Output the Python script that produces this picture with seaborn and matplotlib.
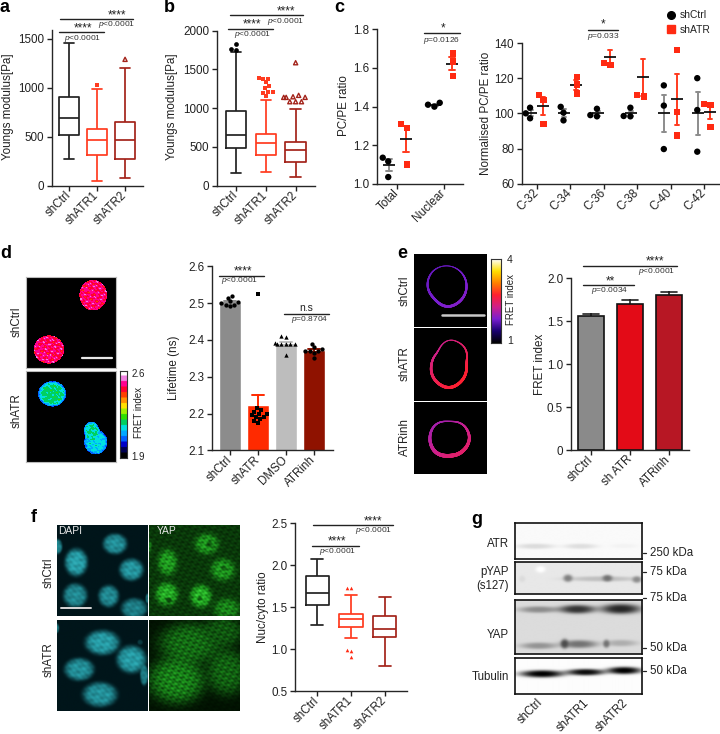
import numpy as np
import pandas as pd
import matplotlib
matplotlib.use('Agg')
import matplotlib.pyplot as plt
import seaborn as sns
from matplotlib.colors import LinearSegmentedColormap, ListedColormap
from matplotlib.lines import Line2D
from matplotlib.transforms import Affine2D

# ---- values ----
box_groups = ['shCtrl', 'shATR1', 'shATR2']
# whisker low, q1, median, q3, whisker high
a_shctrl = [276, 518, 689, 903, 1463]
a_shatr1 = [44, 317, 464, 583, 985]
a_shatr2 = [78, 273, 464, 651, 1203]
a_fliers1 = [1033]
a_fliers2 = [1292]

b_shctrl = [168, 482, 654, 963, 1729]
b_shatr1 = [176, 396, 555, 671, 1105]
b_shatr2 = [112, 305, 456, 563, 994]
b_fliers0 = [1824, 1759, 1755]
b_fliers1 = [1381, 1385, 1381, 1333, 1290, 1256, 1200, 1208, 1208, 1157]
b_fliers2 = [1587, 1166, 1140, 1140, 1140, 1148, 1084, 1084, 1084]

f_shctrl = [1.292, 1.53, 1.664, 1.874, 2.076]
f_shatr1 = [1.134, 1.26, 1.36, 1.423, 1.648]
f_shatr2 = [0.80, 1.146, 1.245, 1.395, 1.62]
f_fliers1 = [1.73, 1.73, 0.995, 0.98, 0.904]

conds = ['shCtrl', 'shATR']
c1_groups = ['Total', 'Nuclear']
c1_ctrl = [[1.136, 1.117, 1.036], [1.42, 1.40, 1.41]]
c1_atr = [[1.309, 1.29, 1.10], [1.674, 1.634, 1.557]]

c2_groups = ['C-32', 'C-34', 'C-36', 'C-38', 'C-40', 'C-42']
c2_ctrl = [[97.2, 103.2, 100], [96, 103.7, 100.4], [102.6, 98.3, 99],
           [103.2, 98.3, 98.5], [115.9, 104.4, 79.7], [120, 101.9, 78.2]]
c2_atr = [[110.3, 107.7, 93.8], [120.8, 116.3, 111.2], [127.5, 128.8],
          [109.5, 110.3], [136, 100.6, 87.5], [105.3, 104.9, 92.4]]
# third replicates that count in the mean but have no marker in the figure
c2_atr_hidden = {'C-36': 140, 'C-38': 141.4}

d_groups = ['shCtrl', 'shATR', 'DMSO', 'ATRinh']
d_shctrl = [2.52, 2.515, 2.505, 2.50, 2.495, 2.492, 2.495, 2.503]
d_shatr = [2.21, 2.205, 2.20, 2.195, 2.19, 2.185, 2.18, 2.215, 2.20, 2.19, 2.175, 2.525]
d_dmso = [2.41, 2.408, 2.392, 2.39, 2.39, 2.39, 2.388, 2.388, 2.36]
d_atrinh = [2.39, 2.38, 2.375, 2.37, 2.37, 2.37, 2.365, 2.35]

e_groups = ['shCtrl', 'sh ATR', 'ATRinh']
e_shctrl = [1.533, 1.563, 1.593]
e_shatr = [1.619, 1.702, 1.785]
e_atrinh = [1.76, 1.807, 1.854]

# ---- style ----
sns.set_theme(style='ticks')
plt.rcParams['font.family'] = ['Liberation Sans', 'DejaVu Sans']
plt.rcParams['mathtext.fontset'] = 'custom'
plt.rcParams['mathtext.it'] = 'Liberation Sans:italic'
plt.rcParams['mathtext.rm'] = 'Liberation Sans'
plt.rcParams['axes.linewidth'] = 1.0
plt.rcParams['text.color'] = '#222222'
plt.rcParams['axes.labelcolor'] = '#222222'
plt.rcParams['xtick.color'] = '#222222'
plt.rcParams['ytick.color'] = '#222222'

W, H = 720, 734
fig = plt.figure(figsize=(W / 100, H / 100), dpi=100)
px = Affine2D().scale(1 / W, -1 / H).translate(0, 1) + fig.transFigure

BLACK = '#222222'
RED1 = '#ff3b1f'
RED2 = '#a3231a'
FS = 8.4


def chart_ax(x0, x1, ytop, ybot):
    return fig.add_axes([x0 / W, 1 - ybot / H, (x1 - x0) / W, (ybot - ytop) / H])


def finish(ax, xlim, ylim, yticks, yticklabels, ylabel, label_x, label_y):
    ax.set_xlim(*xlim)
    ax.set_ylim(*ylim)
    ax.set_yticks(yticks)
    ax.set_yticklabels(yticklabels)
    ax.set_xlabel('')
    ax.set_ylabel(ylabel, fontsize=FS)
    # ylabel sits left of its anchor, so the anchor is the right edge of the text
    ax.yaxis.set_label_coords(label_x + 8, label_y, transform=px)
    ax.tick_params(axis='both', labelsize=FS, length=3.5, width=1.0, pad=2)
    plt.setp(ax.get_xticklabels(), rotation=45, ha='right', va='center', rotation_mode='anchor')
    sns.despine(ax=ax)


def box_panel(ax, groups, stats, colors):
    df = pd.DataFrame({'group': np.repeat(groups, 5), 'val': np.concatenate(stats)})
    sns.boxplot(data=df, x='group', y='val', hue='group', order=groups, palette=colors,
                fill=False, width=0.69, whis=(0, 100), linewidth=1.25, saturation=1,
                legend=False, ax=ax)


def flier_swarm(ax, groups, group, vals, marker, color, size, hollow=True):
    df = pd.DataFrame({'group': [group] * len(vals), 'val': vals})
    sns.swarmplot(data=df, x='group', y='val', order=groups, color=color, marker=marker,
                  size=size, ax=ax, warn_thresh=1)
    coll = ax.collections[-1]
    if hollow:
        coll.set_facecolor('none')
        coll.set_edgecolor(color)
        coll.set_linewidth(1.0)


def sig(x0, x1, y, stars, star_x, star_y, ptxt, p_x, p_y):
    fig.add_artist(Line2D([x0, x1], [y, y], transform=px, color='#222222', lw=1.0))
    fig.text(star_x, star_y + 0.5, stars, transform=px, ha='center', va='center', fontsize=8.5)
    fig.text(p_x, p_y, ptxt, transform=px, ha='center', va='center', fontsize=6, color='#333333')


P4 = r'$\it{p}$<0.0001'


def long_pairs(groups, ctrl, atr):
    rows = []
    for g, cs, xs in zip(groups, ctrl, atr):
        rows += [(g, 'shCtrl', v) for v in cs]
        rows += [(g, 'shATR', v) for v in xs]
    return pd.DataFrame(rows, columns=['group', 'cond', 'val'])


def pair_panel(ax, df_points, df_stats, groups):
    # mean +- sem: coloured error bars, black mean bar on top
    err_pal = {'shCtrl': '#8c8c8c', 'shATR': RED1}
    dot_pal = {'shCtrl': 'black', 'shATR': '#ff2a12'}
    sns.pointplot(data=df_stats, x='group', y='val', hue='cond', order=groups, hue_order=conds,
                  dodge=0.36, linestyle='none', marker='_', markersize=0, errorbar='se',
                  capsize=0.12, palette=err_pal, err_kws={'linewidth': 1.4}, legend=False, ax=ax)
    for cond, marker in [('shCtrl', 'o'), ('shATR', 's')]:
        sub = df_points[df_points['cond'] == cond]
        sns.swarmplot(data=sub, x='group', y='val', hue='cond', order=groups, hue_order=conds,
                      dodge=True, marker=marker, size=4.6, palette=dot_pal,
                      legend=False, ax=ax, warn_thresh=1)
    sns.pointplot(data=df_stats, x='group', y='val', hue='cond', order=groups, hue_order=conds,
                  dodge=0.36, linestyle='none', marker='_', markersize=9, markeredgewidth=1.3,
                  errorbar=None, palette={'shCtrl': '#111111', 'shATR': '#111111'},
                  legend=False, ax=ax)


# ---- a ----
ax = chart_ax(52, 143, 29.5, 185.7)
box_colors = dict(zip(box_groups, [BLACK, RED1, RED2]))
box_panel(ax, box_groups, [a_shctrl, a_shatr1, a_shatr2], box_colors)
flier_swarm(ax, box_groups, 'shATR1', a_fliers1, 's', RED1, 3.2)
flier_swarm(ax, box_groups, 'shATR2', a_fliers2, '^', RED2, 3.0)
finish(ax, (-0.607, 2.64), (0, 1597), [0, 500, 1000, 1500], ['0', '500', '1000', '1500'],
       'Youngs modulus[Pa]', 6, 107)
sig(60.3, 133.3, 19.3, '****', 116.7, 15, P4, 116.7, 25)
sig(59.3, 104.3, 32.3, '****', 83, 28, P4, 83, 38)

# ---- b ----
ax = chart_ax(216.7, 315, 30.7, 185.7)
box_panel(ax, box_groups, [b_shctrl, b_shatr1, b_shatr2], box_colors)
flier_swarm(ax, box_groups, 'shCtrl', b_fliers0, 'o', 'black', 3.4, hollow=False)
flier_swarm(ax, box_groups, 'shATR1', b_fliers1, 's', RED1, 3.2)
flier_swarm(ax, box_groups, 'shATR2', b_fliers2, '^', RED2, 3.0)
finish(ax, (-0.65, 2.65), (0, 2000), [0, 500, 1000, 1500, 2000], ['0', '500', '1000', '1500', '2000'],
       'Youngs modulus[Pa]', 170, 107)
sig(230, 302.7, 15.3, '****', 286, 11, P4, 286, 21.3)
sig(228.3, 273.3, 28.7, '****', 252.3, 24, P4, 252.3, 34)

# ---- c left ----
ax = chart_ax(376.7, 463, 29.3, 184)
c1_df = long_pairs(c1_groups, c1_ctrl, c1_atr)
pair_panel(ax, c1_df, c1_df, c1_groups)
finish(ax, (-0.45, 1.42), (1.0, 1.8), [1.0, 1.2, 1.4, 1.6, 1.8], ['1.0', '1.2', '1.4', '1.6', '1.8'],
       'PC/PE ratio', 342, 106)
sig(424.3, 460, 33.3, '*', 442.7, 28, r'$\it{p}$=0.0126', 441.7, 40)

# ---- c right ----
ax = chart_ax(521.7, 720, 43, 183.7)
c2_df = long_pairs(c2_groups, c2_ctrl, c2_atr)
extra = pd.DataFrame([(g, 'shATR', v) for g, v in c2_atr_hidden.items()], columns=['group', 'cond', 'val'])
c2_all = pd.concat([c2_df, extra], ignore_index=True)
pair_panel(ax, c2_df, c2_all, c2_groups)
finish(ax, (-0.45, 5.48), (60, 140), [60, 80, 100, 120, 140], ['60', '80', '100', '120', '140'],
       'Normalised PC/PE ratio', 484, 113)
sig(588, 618, 30, '*', 602.7, 24, r'$\it{p}$=0.033', 602.7, 36.7)
handles = [Line2D([], [], marker='o', color='black', ls='none', ms=5.5),
           Line2D([], [], marker='s', color='#ff2a12', ls='none', ms=5.5)]
fig.legend(handles, conds, loc='upper left', bbox_to_anchor=(663.7 / W, 1 - 10.5 / H), frameon=False,
           fontsize=7.4, handlelength=1.4, handletextpad=0.2, labelspacing=0.42, borderpad=0,
           borderaxespad=0)

# ---- d bar ----
ax = chart_ax(211.7, 333, 266.3, 450.3)
d_colors = dict(zip(d_groups, ['#8c8c8c', '#ff2a00', '#bdbdbd', '#8f1200']))
d_df = pd.DataFrame({'group': np.repeat(d_groups, [len(d_shctrl), len(d_shatr), len(d_dmso), len(d_atrinh)]),
                     'val': d_shctrl + d_shatr + d_dmso + d_atrinh})
for g, marker in zip(d_groups, ['o', 's', '^', 'o']):
    sub = d_df[d_df['group'] == g]
    sns.barplot(data=sub, x='group', y='val', order=d_groups, color=d_colors[g], saturation=1,
                width=0.77, errorbar='se', capsize=0.4, err_kws={'linewidth': 1.4, 'color': d_colors[g]},
                ax=ax)
    sns.swarmplot(data=sub, x='group', y='val', order=d_groups, color='black',
                  marker=marker, size=3.1, ax=ax, warn_thresh=1)
finish(ax, (-0.65, 3.68), (2.1, 2.6), [2.1, 2.2, 2.3, 2.4, 2.5, 2.6],
       ['2.1', '2.2', '2.3', '2.4', '2.5', '2.6'], 'Lifetime (ns)', 172, 368)
sig(219.3, 264.3, 275.7, '****', 243.3, 271, P4, 240, 281)
fig.add_artist(Line2D([283.7, 328.7], [314, 314], transform=px, color='#222222', lw=1.0))
fig.text(306.7, 308, 'n.s', transform=px, ha='center', va='center', fontsize=7.5)
fig.text(309.3, 319.7, r'$\it{p}$=0.8704', transform=px, ha='center', va='center', fontsize=6, color='#333333')

# ---- e bar ----
ax = chart_ax(570.7, 689.3, 278, 450.3)
e_colors = dict(zip(e_groups, ['#8a8a8a', '#e30b17', '#b71724']))
e_df = pd.DataFrame({'group': np.repeat(e_groups, 3), 'val': e_shctrl + e_shatr + e_atrinh})
sns.barplot(data=e_df, x='group', y='val', hue='group', order=e_groups, palette=e_colors, saturation=1,
            width=0.66, errorbar='se', capsize=0.4, edgecolor='#111111', linewidth=1.2,
            err_kws={'linewidth': 1.2, 'color': '#222222', 'zorder': 0.5}, legend=False, ax=ax)
finish(ax, (-0.52, 2.52), (0, 2.0), [0, 0.5, 1.0, 1.5, 2.0], ['0', '0.5', '1.0', '1.5', '2.0'],
       'FRET index', 538, 364)
sig(583, 676.7, 265.7, '****', 655.3, 261, P4, 656.7, 271.7)
sig(583, 634, 285.3, '**', 610, 280.7, r'$\it{p}$=0.0034', 610, 291)

# ---- f box ----
ax = chart_ax(295, 407.3, 523, 691.3)
box_panel(ax, box_groups, [f_shctrl, f_shatr1, f_shatr2], box_colors)
flier_swarm(ax, box_groups, 'shATR1', f_fliers1, '^', '#ff2a12', 2.6, hollow=False)
finish(ax, (-0.66, 2.67), (0.5, 2.5), [0.5, 1.0, 1.5, 2.0, 2.5], ['0.5', '1.0', '1.5', '2.0', '2.5'],
       'Nuc/cyto ratio', 261, 607)
sig(312.7, 392.7, 525, '****', 372.7, 520.7, P4, 374, 531)
sig(311.7, 359.3, 545.7, '****', 336.7, 541, P4, 337.3, 551.3)


# ---- image panels, sketched from soft blobs ----
def img_ax(ox, oy, zx0, zx1, zy0, zy1, edge=None):
    """axes placed from 3x crop coordinates, with the crop coordinates as data coordinates"""
    a = chart_ax(ox + zx0 / 3, ox + zx1 / 3, oy + zy0 / 3, oy + zy1 / 3)
    a.set_xlim(zx0, zx1)
    a.set_ylim(zy1, zy0)
    a.set_xticks([])
    a.set_yticks([])
    for s in a.spines.values():
        s.set_visible(edge is not None)
        if edge is not None:
            s.set_color(edge)
            s.set_linewidth(0.8)
    return a


def blob_field(zx0, zx1, zy0, zy1, blobs, power=2, base=0.0):
    yy, xx = np.mgrid[zy0:zy1, zx0:zx1]
    out = np.full(xx.shape, float(base))
    for cx, cy, rx, ry, v in blobs:
        s = np.exp(-(((xx - cx) / rx) ** 2 + ((yy - cy) / ry) ** 2) ** power)
        out = out + (v - out) * s
    return out, xx, yy


def grain(xx, yy, scale=1.0):
    # mottled texture between about -1 and 1, from a few crossing waves
    g = (np.sin(xx * 0.31 * scale + yy * 0.17 * scale + 1.0) + np.sin(yy * 0.37 * scale - xx * 0.13 * scale)
         + np.sin(xx * 0.53 * scale - yy * 0.47 * scale + 2.0) + np.sin(xx * 0.11 * scale + yy * 0.59 * scale))
    return g / 3


def show(a, field, cmap, box, vmin=0, vmax=1, interpolation='bilinear'):
    a.imshow(field, cmap=cmap, vmin=vmin, vmax=vmax, extent=(box[0], box[1], box[3], box[2]),
             aspect='auto', interpolation=interpolation)


def colorbar(x0, x1, y0, y1, cmap):
    a = chart_ax(x0, x1, y0, y1)
    a.imshow(np.linspace(1, 0, 256)[:, None], cmap=cmap, aspect='auto')
    a.set_xticks([])
    a.set_yticks([])
    for s in a.spines.values():
        s.set_linewidth(0.8)
        s.set_color('#333333')


def side_label(x, y, txt, fs=FS):
    fig.text(x, y, txt, transform=px, rotation=90, ha='center', va='center', fontsize=fs)


# d images
spectrum = ListedColormap(['#000000', '#000050', '#0000c8', '#0060ff', '#00a8ff', '#00e0e0', '#00d060',
                           '#30e000', '#a0f000', '#ffe000', '#ff9000', '#ff4000', '#ff0030', '#ff0090',
                           '#f080e0', '#ffffff'])
box = (77, 349, 126, 398)
a = img_ax(0, 235, *box, edge='#bbbbbb')
f, xx, yy = blob_field(*box, [(277, 180, 45, 50, 0.83), (145, 342, 50, 46, 0.83)], power=4)
f = np.where(f > 0.5, 0.82 + 0.08 * grain(xx, yy, 1.0), 0)
show(a, f, spectrum, box, interpolation='nearest')
a.plot([247, 337], [368, 368], color='#e8e8e8', lw=1.6)
box = (77, 349, 407, 680)
a = img_ax(0, 235, *box, edge='#bbbbbb')
f, xx, yy = blob_field(*box, [(155, 475, 44, 40, 0.4), (285, 620, 38, 40, 0.33), (272, 585, 24, 28, 0.38)], power=4)
f = np.where(f > 0.2, f + 0.05 * grain(xx, yy, 1.0), 0)
show(a, f, spectrum, box, interpolation='nearest')
colorbar(120, 127, 370.7, 458.3, spectrum)
fig.text(131.7, 373.7, '2.6', transform=px, va='center', fontsize=7)
fig.text(131.7, 456.7, '1.9', transform=px, va='center', fontsize=7)
side_label(139.3, 412.7, 'FRET index', 7)
side_label(16.7, 322, 'shCtrl')
side_label(16.7, 411, 'shATR')

# e images
fire = LinearSegmentedColormap.from_list('fire', ['#000000', '#1a0070', '#7a1fd0', '#d0208a', '#ff2030',
                                                  '#ff8000', '#ffe000', '#ffffff'])


def ring(a, cx, cy, radii, level, spread, size):
    th = np.linspace(0, 2 * np.pi, 500)
    knots = np.linspace(0, 2 * np.pi, len(radii) + 1)
    r = np.interp(th, knots, radii + radii[:1])
    x = cx + r * np.cos(th)
    y = cy + r * np.sin(th)
    # smooth the outline a little
    kernel = np.ones(41) / 41
    x = np.convolve(np.r_[x[-20:], x, x[:20]], kernel, mode='valid')
    y = np.convolve(np.r_[y[-20:], y, y[:20]], kernel, mode='valid')
    vals = level + spread * np.sin(th + 0.6)
    a.scatter(x, y, c=vals, cmap=fire, vmin=0, vmax=1, s=size + size * 0.8 * np.sin(th), lw=0)


a = img_ax(380, 235, 103, 320, 58, 276)
a.set_facecolor('black')
ring(a, 202, 152, [58, 60, 64, 55, 60, 62, 60, 58], 0.28, 0.02, 2)
a.plot([186, 311], [239, 239], color='#c8c8c8', lw=1.8)
a = img_ax(380, 235, 103, 320, 280, 497)
a.set_facecolor('black')
ring(a, 207, 385, [51, 63, 75, 65, 52, 47, 72, 68], 0.5, 0.07, 2.6)
a = img_ax(380, 235, 103, 320, 501, 718)
a.set_facecolor('black')
ring(a, 209, 610, [60, 55, 52, 60, 60, 60, 50, 58], 0.42, 0.06, 4)
colorbar(491, 501.3, 259, 342.7, fire)
fig.text(507, 260.3, '4', transform=px, va='center', fontsize=7.5)
fig.text(507, 341, '1', transform=px, va='center', fontsize=7.5)
side_label(511, 299.3, 'FRET index', 7)
side_label(405, 291, 'shCtrl')
side_label(405, 364, 'shATR')
side_label(405, 436.7, 'ATRinh')

# f images
dapi = LinearSegmentedColormap.from_list('dapi', ['#00151a', '#2aa6b0', '#80e8f0'])
yap = LinearSegmentedColormap.from_list('yap', ['#000a00', '#1e9a1e', '#40e840'])
box = (170, 442, 121, 393)
a = img_ax(0, 485, *box)
f, xx, yy = blob_field(*box, [(343, 177, 35, 30, 0.42), (227, 232, 33, 40, 0.48), (392, 254, 35, 32, 0.44),
                              (224, 331, 35, 35, 0.4), (324, 333, 30, 32, 0.4), (400, 370, 38, 30, 0.36),
                              (170, 185, 15, 22, 0.4), (440, 340, 6, 14, 0.3)], power=3)
f = f * (1 + 0.16 * grain(xx, yy, 0.7))
show(a, f, dapi, box)
a.plot([182, 272], [370, 370], color='#d8d8d8', lw=1.4)
a.text(175, 139, 'DAPI', color='#e8e8e8', fontsize=7.4, va='center')
box = (170, 442, 406, 678)
a = img_ax(0, 485, *box)
f, xx, yy = blob_field(*box, [(305, 473, 50, 36, 0.46), (392, 523, 43, 40, 0.46), (236, 553, 43, 33, 0.42),
                              (298, 628, 50, 36, 0.42), (170, 430, 6, 14, 0.3), (430, 570, 12, 30, 0.36),
                              (418, 472, 8, 8, 0.12)], power=3)
f = f * (1 + 0.16 * grain(xx, yy, 0.7))
show(a, f, dapi, box)

box = (447, 720, 121, 393)
a = img_ax(0, 485, *box)
f, xx, yy = blob_field(*box, [(620, 177, 35, 30, 0.5), (502, 232, 28, 38, 0.52), (668, 254, 35, 32, 0.5),
                              (500, 327, 32, 33, 0.62), (602, 333, 30, 32, 0.66), (680, 370, 38, 30, 0.42),
                              (447, 185, 8, 20, 0.35),
                              (628, 178, 10, 10, 0.25), (505, 345, 9, 9, 0.2), (600, 340, 8, 8, 0.3),
                              (672, 250, 9, 9, 0.3)], power=2, base=0.16)
f = f * (1 + 0.4 * grain(xx, yy, 1.0))
show(a, f, yap, box)
a.text(472, 139, 'YAP', color='#e8e8e8', fontsize=7.4, va='center')
box = (447, 720, 406, 678)
a = img_ax(0, 485, *box)
f, xx, yy = blob_field(*box, [(570, 475, 95, 62, 0.33), (530, 585, 85, 70, 0.4), (680, 560, 60, 70, 0.3),
                              (670, 440, 60, 45, 0.26)], power=2, base=0.03)
f = f * (1 + 0.45 * grain(xx, yy, 1.0))
show(a, f, yap, box)
side_label(48.3, 573, 'shCtrl')
side_label(48.3, 660, 'shATR')

# g blots
blots = [
    ((164, 547, 115, 221), 0.02, [(225, 183, 58, 8, 0.14), (360, 183, 50, 8, 0.13), (490, 182, 42, 7, 0.05)]),
    ((164, 547, 231, 328), 0.09, [(240, 255, 15, 10, 0.0), (185, 283, 10, 10, 0.14), (425, 283, 110, 8, 0.25),
                                  (322, 281, 14, 11, 0.5), (440, 281, 15, 10, 0.55), (528, 285, 14, 10, 0.45)]),
    ((164, 547, 344, 508), 0.14, [(235, 375, 60, 10, 0.45), (350, 374, 55, 13, 0.8), (480, 373, 60, 15, 0.85),
                                  (235, 483, 55, 10, 0.42), (355, 478, 55, 12, 0.55), (480, 475, 50, 10, 0.32),
                                  (312, 477, 12, 14, 0.7), (437, 477, 10, 12, 0.55)]),
    ((164, 547, 519, 627), 0.01, [(245, 566, 66, 11, 1.0), (375, 561, 58, 10, 0.95), (490, 556, 52, 11, 1.0)]),
]
for box, base, bands in blots:
    a = img_ax(460, 485, *box, edge='#111111')
    f, xx, yy = blob_field(*box, bands, power=1.5, base=base)
    show(a, f, 'gray_r', box)
    for s in a.spines.values():
        s.set_linewidth(1.2)

for txt, y in [('ATR', 543.7), ('pYAP', 571.7), ('(s127)', 586), ('YAP', 635), ('Tubulin', 677)]:
    fig.text(509, y, txt, transform=px, ha='right', va='center', fontsize=8.3)
for txt, y in [('250 kDa', 553), ('75 kDa', 572.3), ('75 kDa', 598), ('50 kDa', 647.7), ('50 kDa', 671)]:
    fig.text(650, y, txt, transform=px, va='center', fontsize=8.3)
    fig.add_artist(Line2D([643, 646], [y, y], transform=px, color='#222222', lw=0.9))
for txt, x in [('shCtrl', 541), ('shATR1', 587), ('shATR2', 626)]:
    fig.text(x, 701, txt, transform=px, rotation=45, ha='right', va='center',
             rotation_mode='anchor', fontsize=8.3)

# panel letters
for txt, x, y in [('a', 0, 8), ('b', 164, 8), ('c', 334, 8), ('d', 0, 254), ('e', 397, 254),
                  ('f', 31, 518), ('g', 471, 519)]:
    fig.text(x, y, txt, transform=px, fontsize=13, fontweight='bold', va='center', color='black')

fig.savefig('out.png', dpi=100)
